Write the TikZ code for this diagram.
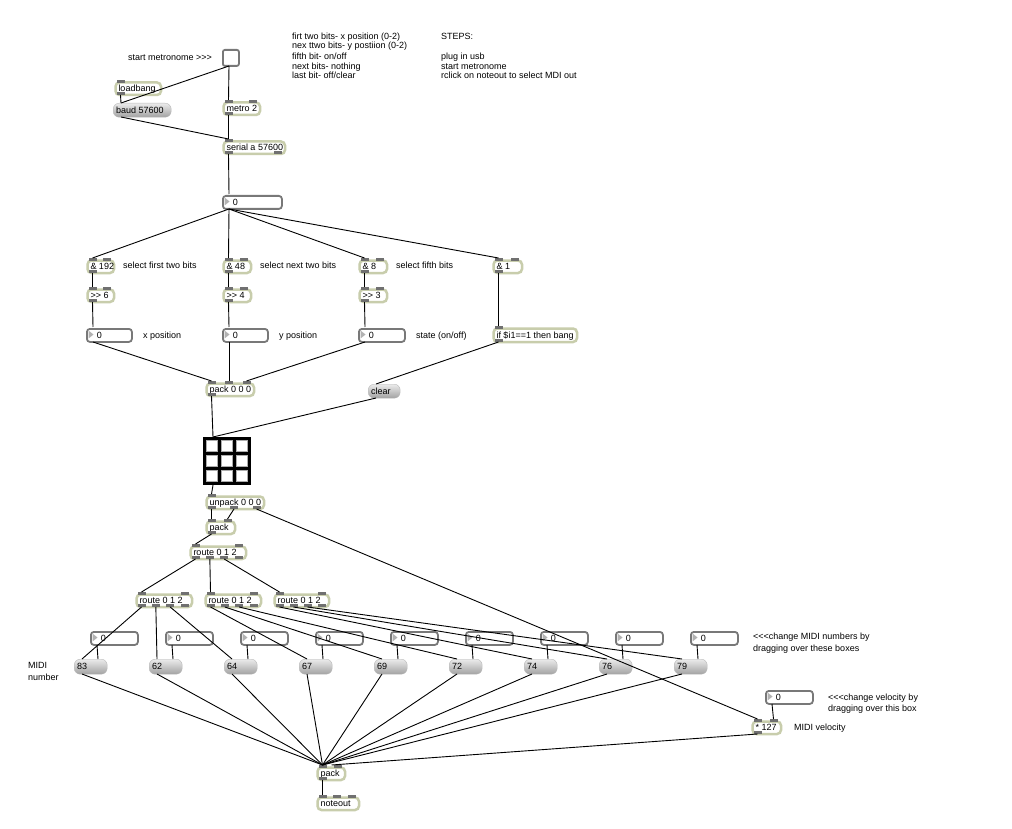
\documentclass[tikz,border=0pt]{standalone}
\usepackage{fontspec}
\newfontfamily\maxfont{Liberation Sans}
\usetikzlibrary{calc}
\definecolor{mborder}{RGB}{200,205,172}
\definecolor{mport}{RGB}{112,112,112}
\definecolor{nborder}{RGB}{120,120,120}
\definecolor{ntri}{RGB}{178,178,178}
\definecolor{mtop}{RGB}{235,235,235}
\definecolor{mbot}{RGB}{162,162,162}
\tikzset{
 objbox/.style={draw=mborder, line width=2.5pt, fill=white, rounded corners=4pt, inner xsep=3pt, inner ysep=0pt, text height=7.4pt, text depth=1.2pt},
 msgbox/.style={top color=mtop, bottom color=mbot, draw=gray!55, line width=0.4pt, rounded corners=6pt, inner xsep=3pt, inner ysep=0pt, text height=7.4pt, text depth=1.2pt},
 numbox/.style={draw=nborder, line width=1.8pt, fill=white, rounded corners=3pt, inner xsep=0pt, inner ysep=0pt, text height=7.4pt, text depth=1.2pt},
 togbox/.style={draw=nborder, line width=1.8pt, fill=white, rounded corners=2pt, minimum size=16pt, inner sep=0pt},
 port/.style={fill=mport},
 cord/.style={draw=black, line width=0.9pt},
 cmt/.style={anchor=base west, inner sep=0pt},
}
\newcommand\ports[6]{%
  \ifnum#5>0\relax
  \foreach \k in {1,...,#5}{%
    \ifnum#5=1\relax\pgfmathsetmacro\px{#2+7.5}\else\pgfmathsetmacro\px{#2+7.5+(\k-1)*(#4-15)/(#5-1)}\fi
    \if#6i\fill[port] (\px-4,#3) rectangle (\px+4,#3+3);\else\fill[port] (\px-4,#3-3) rectangle (\px+4,#3);\fi
    \coordinate (#1-#6\k) at (\px,#3);
  }\fi}
\newcommand\mobj[8]{%
  \pgfmathsetmacro\bw{#4-2.5}\pgfmathsetmacro\bh{#5-2.5}\pgfmathsetmacro\tw{#4-8.5}%
  \node[objbox, anchor=north west, minimum width=\bw pt, minimum height=\bh pt] (#1) at (#2+1.25,#3+1.25) {\makebox[\tw pt][l]{#8}};
  \ports{#1}{#2}{#3}{#4}{#6}{i}%
  \pgfmathsetmacro\yb{#3+#5}%
  \ports{#1}{#2}{\yb}{#4}{#7}{o}%
}
\newcommand\mmsg[6]{%
  \pgfmathsetmacro\bw{#4}\pgfmathsetmacro\bh{#5}\pgfmathsetmacro\tw{#4-6}%
  \node[msgbox, anchor=north west, minimum width=\bw pt, minimum height=\bh pt] (#1) at (#2,#3) {\makebox[\tw pt][l]{#6}};
  \coordinate (#1-i1) at (#2+8,#3);
  \coordinate (#1-i2) at (#2+#4-9,#3);
  \coordinate (#1-o1) at (#2+8,#3+#5);
}
\newcommand\mnum[5]{%
  \pgfmathsetmacro\bw{#4-2}\pgfmathsetmacro\tw{#4-2}%
  \node[numbox, anchor=north west, minimum width=\bw pt, minimum height=13pt] (#1) at (#2+1,#3+1) {\makebox[\tw pt][l]{\hspace*{10pt}#5}};
  \fill[ntri] (#2+3.5,#3+3.5) -- (#2+3.5,#3+11.5) -- (#2+8.5,#3+7.5) -- cycle;
  \coordinate (#1-i1) at (#2+8,#3);
  \coordinate (#1-o1) at (#2+8,#3+15);
}
\begin{document}
\begin{tikzpicture}[x=1pt,y=-1pt, font=\maxfont\fontsize{9}{11}\selectfont]
\fill[white] (0,0) rectangle (1012,829);
\useasboundingbox (0,0) rectangle (1012,829);

% comments
\node[cmt] (c1) at (128,60.3) {start metronome >>>};
\node[cmt] (c2) at (292,39.5) {firt two bits- x position (0-2)};
\node[cmt] (c3) at (292,49) {nex ttwo bits- y postiion (0-2)};
\node[cmt] (c4) at (292,59.3) {fifth bit- on/off};
\node[cmt] (c5) at (292,69.7) {next bits- nothing};
\node[cmt] (c6) at (292,79) {last bit- off/clear};
\node[cmt] (s1) at (441,39.5) {STEPS:};
\node[cmt] (s2) at (441,59.3) {plug in usb};
\node[cmt] (s3) at (441,69.7) {start metronome};
\node[cmt] (s4) at (441,79) {rclick on noteout to select MDI out};
\node[cmt] (c7) at (123,268.3) {select first two bits};
\node[cmt] (c8) at (260,268.3) {select next two bits};
\node[cmt] (c9) at (396,268.3) {select fifth bits};
\node[cmt] (c10) at (143,338.3) {x position};
\node[cmt] (c11) at (279,338.3) {y position};
\node[cmt] (c12) at (416,338.3) {state (on/off)};
\node[cmt] (c13) at (753,639.8) {<<<change MIDI numbers by};
\node[cmt] (c14) at (753,651.3) {dragging over these boxes};
\node[cmt] (c15) at (28,668.8) {MIDI};
\node[cmt] (c16) at (28,680.3) {number};
\node[cmt] (c17) at (828,700.3) {<<<change velocity by};
\node[cmt] (c18) at (828,711.5) {dragging over this box};
\node[cmt] (c19) at (794,730.3) {MIDI velocity};

% objects
\node[togbox, anchor=north west] (tog) at (222,49) {};
\coordinate (tog-o1) at (229,66);
\mobj{loadbang}{113}{80}{48}{15}{1}{1}{loadbang}
\mmsg{baud}{113}{103}{58}{14}{baud 57600}
\mobj{metro}{221}{100}{39}{15}{2}{1}{metro 2}
\mobj{serial}{221}{139}{64}{15}{1}{2}{serial a 57600}
\mnum{num0}{221}{194}{61}{0}
\mobj{andA}{85}{258}{29}{15}{2}{1}{\& 192}
\mobj{andB}{221}{258}{30}{15}{2}{1}{\& 48}
\mobj{andC}{357}{258}{30}{15}{2}{1}{\& 8}
\mobj{andD}{491}{258}{31}{15}{2}{1}{\& 1}
\mobj{shA}{85}{287}{29}{15}{2}{1}{>> 6}
\mobj{shB}{221}{287}{30}{15}{2}{1}{>> 4}
\mobj{shC}{357}{287}{30}{15}{2}{1}{>> 3}
\mnum{numx}{85}{327}{47}{0}
\mnum{numy}{221}{327}{47}{0}
\mnum{numst}{357}{327}{48}{0}
\mobj{ifb}{491}{326}{86}{16}{1}{1}{if \$i1==1 then bang}
\mobj{pk}{204}{381}{50}{15}{3}{1}{pack 0 0 0}
\mmsg{clear}{368}{384}{32}{14}{clear}

% matrix grid
\node[fill=black, minimum size=48pt, inner sep=0pt, anchor=north west] (grid) at (203,437) {};
\foreach \i in {0,1,2}{\foreach \j in {0,1,2}{%
  \filldraw[fill=white, draw=gray!65, line width=0.8pt] (203+3.3+\i*14.8+0.4,437+3.3+\j*14.8+0.4) rectangle ++(10.7,10.7);}}
\coordinate (grid-i) at (213,437);
\coordinate (grid-o) at (213,485);

\mobj{unpk}{204}{494}{60}{15}{1}{3}{unpack 0 0 0}
\mobj{pkb}{204}{519}{31}{15}{2}{1}{pack}
\mobj{rt}{188}{544}{58}{15}{2}{4}{route 0 1 2}
\mobj{rtL}{134}{592}{58}{15}{2}{4}{route 0 1 2}
\mobj{rtM}{203}{592}{58}{15}{2}{4}{route 0 1 2}
\mobj{rtR}{272}{592}{57}{15}{2}{4}{route 0 1 2}
\foreach \v [count=\k from 0] in {83,62,64,67,69,72,74,76,79}{%
  \pgfmathsetmacro\mx{74+75*\k}\pgfmathsetmacro\nx{89+75*\k}%
  \mnum{n\k}{\nx}{630}{49}{0}
  \mmsg{m\k}{\mx}{659}{33}{15}{\v}
}
\mnum{numvel}{764}{689}{49}{0}
\mobj{mul}{750}{719}{31}{15}{2}{1}{* 127}
\mobj{packc}{315}{765}{30}{15}{2}{1}{pack}
\mobj{noteout}{315}{795}{44}{15}{3}{0}{noteout}

% cords
\draw[cord] (tog-o1) -- (metro-i1);
\draw[cord] (tog-o1) -- (baud-i1);
\draw[cord] (loadbang-o1) -- (baud-i1);
\draw[cord] (baud-o1) -- (serial-i1);
\draw[cord] (metro-o1) -- (serial-i1);
\draw[cord] (serial-o1) -- (num0-i1);
\foreach \a in {andA,andB,andC,andD}{\draw[cord] (num0-o1) -- (\a-i1);}
\draw[cord] (andA-o1) -- (shA-i1);
\draw[cord] (andB-o1) -- (shB-i1);
\draw[cord] (andC-o1) -- (shC-i1);
\draw[cord] (shA-o1) -- (numx-i1);
\draw[cord] (shB-o1) -- (numy-i1);
\draw[cord] (shC-o1) -- (numst-i1);
\draw[cord] (andD-o1) -- (ifb-i1);
\draw[cord] (numx-o1) -- (pk-i1);
\draw[cord] (numy-o1) -- (pk-i2);
\draw[cord] (numst-o1) -- (pk-i3);
\draw[cord] (ifb-o1) -- (clear-i1);
\draw[cord] (pk-o1) -- (grid-i);
\draw[cord] (clear-o1) -- (grid-i);
\draw[cord] (grid-o) -- (unpk-i1);
\draw[cord] (unpk-o1) -- (pkb-i1);
\draw[cord] (unpk-o2) -- (pkb-i2);
\draw[cord] (unpk-o3) -- (mul-i1);
\draw[cord] (pkb-o1) -- (rt-i1);
\draw[cord] (rt-o1) -- (rtL-i1);
\draw[cord] (rt-o2) -- (rtM-i1);
\draw[cord] (rt-o3) -- (rtR-i1);
\foreach \r/\a/\b/\c in {rtL/m0/m1/m2, rtM/m3/m4/m5, rtR/m6/m7/m8}{%
  \draw[cord] (\r-o1) -- (\a-i1);
  \draw[cord] (\r-o2) -- (\b-i1);
  \draw[cord] (\r-o3) -- (\c-i1);}
\foreach \k in {0,...,8}{%
  \draw[cord] (n\k-o1) -- (m\k-i2);
  \draw[cord] (m\k-o1) -- (packc-i1);}
\draw[cord] (numvel-o1) -- (mul-i2);
\draw[cord] (mul-o1) -- ([xshift=-6pt]packc-i2);
\draw[cord] (packc-o1) -- (noteout-i1);
\end{tikzpicture}
\end{document}
